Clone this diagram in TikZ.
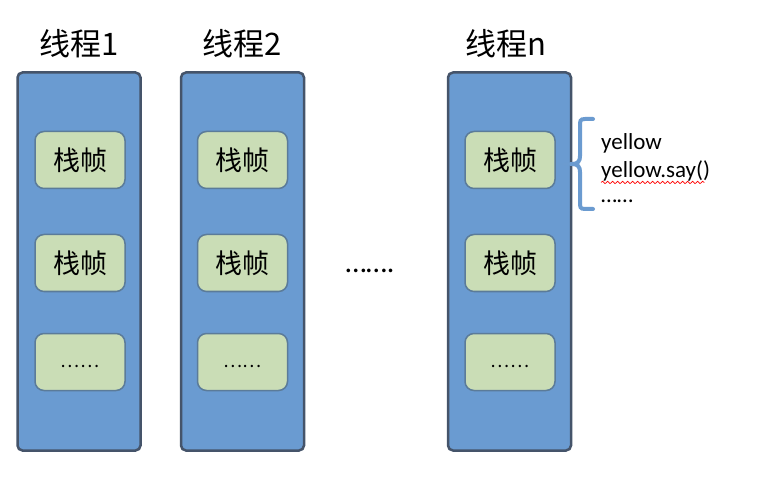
\documentclass[tikz,border=0pt]{standalone}
\usepackage{fontspec}
\setmainfont{Carlito}
\newfontfamily\cjk{Noto Sans CJK SC}
\usetikzlibrary{decorations.pathmorphing}
\definecolor{colfill}{HTML}{6A9BD1}
\definecolor{coldraw}{HTML}{45546A}
\definecolor{framefill}{HTML}{CADDB6}
\definecolor{framedraw}{HTML}{5B7B99}
\definecolor{bracecol}{HTML}{6B9BD0}
\tikzset{
  threadbox/.style={draw=coldraw,fill=colfill,line width=2.5pt,rounded corners=5pt,minimum width=123pt,minimum height=378pt,inner sep=0pt},
  framebox/.style={draw=framedraw,fill=framefill,line width=1.5pt,rounded corners=9pt,minimum width=90pt,minimum height=57pt,font=\cjk\fontsize{27}{30}\selectfont},
  framedots/.style={font=\cjk\fontsize{18}{20}\selectfont,inner sep=0pt},
  titletext/.style={font=\cjk\fontsize{31}{34}\selectfont},
  note/.style={font=\fontsize{23}{26}\selectfont,anchor=west,inner sep=0pt}
}
\begin{document}
\begin{tikzpicture}[x=1pt,y=-1pt]
\useasboundingbox (0,0) rectangle (760,478);
% thread columns
\node[threadbox] (t1) at (79,261.5) {};
\node[threadbox] (t2) at (242.5,261.5) {};
\node[threadbox] (tn) at (509.5,261.5) {};
\node[titletext] (h1) at (79,44) {线程1};
\node[titletext] (h2) at (242,44) {线程2};
\node[titletext] (hn) at (506,44) {线程n};
% frames
\node[framebox] (f11) at (80,160) {栈帧};
\node[framebox] (f12) at (80,263) {栈帧};
\node[framebox] (f13) at (80,362) {};
\node[framebox] (f21) at (242.5,160) {栈帧};
\node[framebox] (f22) at (242.5,263) {栈帧};
\node[framebox] (f23) at (242.5,362) {};
\node[framebox] (fn1) at (510,160) {栈帧};
\node[framebox] (fn2) at (510,263) {栈帧};
\node[framebox] (fn3) at (510,362) {};
\node[framedots] (d13) at (80,366) {……};
\node[framedots] (d23) at (242.5,366) {……};
\node[framedots] (dn3) at (510,366) {……};
% middle dots
\node[font=\fontsize{30}{32}\selectfont] (mid) at (370,271) {…….};
% brace
\coordinate (btip) at (572,164);
\draw[bracecol,line width=4pt,line cap=round]
  (593,119) -- (585,119) .. controls (580,119) and (580,121) .. (580,126)
  -- (580,156) .. controls (580,161) and (578,164) .. (btip)
  .. controls (578,164) and (580,167) .. (580,172)
  -- (580,202) .. controls (580,207) and (580,209) .. (585,209) -- (593,209);
% notes
\node[note] (n1) at (601,143) {yellow};
\node[note] (n2) at (601,171) {yellow.say()};
\node[note] (n3) at (601,201) {……};
\draw[red,line width=0.7pt,decorate,decoration={snake,amplitude=1.2pt,segment length=5pt}]
  ([yshift=-1pt]n2.south west) -- ([yshift=-1pt,xshift=-6pt]n2.south east);
\end{tikzpicture}
\end{document}
